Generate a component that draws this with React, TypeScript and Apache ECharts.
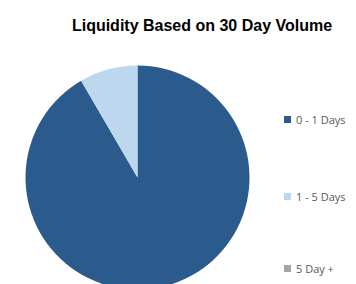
import React, { useEffect, useRef } from "react";
import * as echarts from "echarts";

const categories = ["0 - 1 Days", "1 - 5 Days", "5 Day +"];
const values = [91.6, 8.4, 0];
const colors = ["#2B5A8C", "#BDD7EE", "#A5A5A5"];
const legendTops = [109, 186, 258];

export default function App() {
  const ref = useRef<HTMLDivElement>(null);
  useEffect(() => {
    const chart = echarts.init(ref.current!, null, { renderer: "svg" });
    chart.setOption({
      animation: false,
      title: {
        text: "Liquidity Based on 30 Day Volume",
        left: 197,
        top: 12,
        textAlign: "center",
        textStyle: { fontFamily: "Liberation Sans, Arial", fontSize: 16, fontWeight: "bold", color: "#000" },
      },
      legend: categories.map((c, i) => ({
        data: [c],
        left: 279,
        top: legendTops[i],
        orient: "vertical",
        icon: "rect",
        itemWidth: 7,
        itemHeight: 7,
        selectedMode: false,
        textStyle: { fontFamily: "Open Sans, Noto Sans", fontSize: 11, color: "#595959" },
      })),
      series: [
        {
          type: "pie",
          center: [137.5, 177.5],
          radius: 112,
          startAngle: 90,
          clockwise: true,
          label: { show: false },
          labelLine: { show: false },
          emphasis: { disabled: true },
          itemStyle: { borderWidth: 0 },
          data: categories.map((c, i) => ({ name: c, value: values[i], itemStyle: { color: colors[i] } })),
        },
      ],
    });
    return () => chart.dispose();
  }, []);
  return <div ref={ref} style={{ width: 356, height: 284, position: "absolute", left: 0, top: 0 }} />;
}
